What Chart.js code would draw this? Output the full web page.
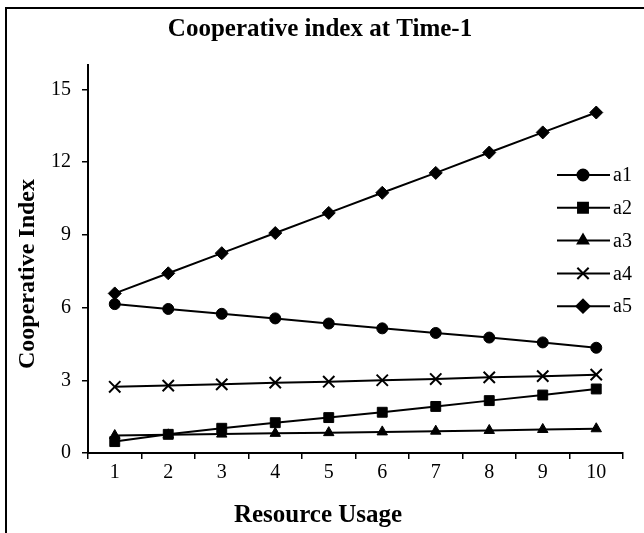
<!DOCTYPE html>
<html>
<head>
<meta charset="utf-8">
<script src="https://cdn.jsdelivr.net/npm/chart.js@4.4.1/dist/chart.umd.min.js"></script>
<style>
    html, body { margin: 0; padding: 0; background: #fff; overflow: hidden; }
    #wrap { width: 644px; height: 533px; }
</style>
</head>
<body>
<div id="wrap"><canvas id="indexChart" width="644" height="533"></canvas></div>
<script>
/*
|--------------------------------------------------------------------------
| Cooperative index chart
|--------------------------------------------------------------------------
*/

var chartTitle = "Cooperative index at Time-1";
var xTitle = "Resource Usage";
var yTitle = "Cooperative Index";

var usage = ["1", "2", "3", "4", "5", "6", "7", "8", "9", "10"];

var a1 = [6.14, 5.94, 5.74, 5.55, 5.34, 5.14, 4.95, 4.76, 4.56, 4.34];
var a2 = [0.47, 0.77, 1.02, 1.25, 1.46, 1.68, 1.92, 2.16, 2.39, 2.64];
var a3 = [0.72, 0.75, 0.78, 0.81, 0.84, 0.87, 0.90, 0.93, 0.97, 1.00];
var a4 = [2.73, 2.78, 2.83, 2.90, 2.94, 3.00, 3.05, 3.12, 3.17, 3.23];
var a5 = [6.58, 7.41, 8.24, 9.07, 9.90, 10.73, 11.55, 12.39, 13.22, 14.04];

var yMin = 0;
var yMax = 16;
var yStep = 3;

var serif = '"Liberation Serif", "Times New Roman", serif';
Chart.defaults.font.family = serif;
Chart.defaults.color = "#000";

function series(label, data, style, radius, border) {
    return {
        label: label,
        data: data,
        borderColor: "#000",
        borderWidth: 2,
        backgroundColor: "#000",
        pointBackgroundColor: "#000",
        pointBorderColor: "#000",
        pointStyle: style,
        pointRadius: radius,
        pointBorderWidth: border,
        tension: 0,
        fill: false
    };
}

// titles, frame and the legend that sits inside the plot (Excel style)
var decor = {
    id: "decor",
    beforeDraw: function (chart) {
        var ctx = chart.ctx;
        ctx.save();
        ctx.strokeStyle = "#000";
        ctx.lineWidth = 2;
        ctx.beginPath();
        ctx.moveTo(6, 540);
        ctx.lineTo(6, 8);
        ctx.lineTo(650, 8);
        ctx.stroke();
        ctx.restore();
    },
    afterDraw: function (chart) {
        var ctx = chart.ctx;
        ctx.save();
        ctx.fillStyle = "#000";
        ctx.textAlign = "center";
        ctx.textBaseline = "alphabetic";
        ctx.font = "bold 25px " + serif;
        ctx.fillText(chartTitle, 320, 36);
        ctx.fillText(xTitle, 318, 522);
        ctx.save();
        ctx.translate(34, 274);
        ctx.rotate(-Math.PI / 2);
        ctx.font = "bold 24px " + serif;
        ctx.fillText(yTitle, 0, 0);
        ctx.restore();

        ctx.font = "20px " + serif;
        ctx.textAlign = "left";
        ctx.textBaseline = "middle";
        chart.data.datasets.forEach(function (ds, i) {
            var y = 175 + i * 32.8;
            ctx.strokeStyle = "#000";
            ctx.lineWidth = 2;
            ctx.beginPath();
            ctx.moveTo(557, y);
            ctx.lineTo(610, y);
            ctx.stroke();
            Chart.helpers.drawPoint(ctx, {
                pointStyle: ds.pointStyle,
                radius: ds.pointRadius,
                borderWidth: ds.pointBorderWidth,
                rotation: 0
            }, 583, y);
            ctx.fillText(ds.label, 613, y + 1);
        });
        ctx.restore();
    }
};

var ctx = document.getElementById("indexChart").getContext("2d");
ctx.fillStyle = "#000";

window.indexChart = new Chart(ctx, {
    type: "line",
    data: {
        labels: usage,
        datasets: [
            series("a1", a1, "circle", 5.5, 1),
            series("a2", a2, "rect", 7, 1),
            series("a3", a3, "triangle", 6, 1),
            series("a4", a4, "crossRot", 8, 2),
            series("a5", a5, "rectRot", 6.5, 1)
        ]
    },
    options: {
        responsive: false,
        animation: false,
        devicePixelRatio: 1,
        layout: { padding: { top: 65, right: 21, bottom: 0, left: 0 } },
        plugins: {
            legend: { display: false },
            tooltip: { enabled: false },
            title: { display: false }
        },
        scales: {
            x: {
                offset: true,
                grid: {
                    offset: true,
                    drawOnChartArea: false,
                    drawTicks: true,
                    tickLength: 6,
                    color: "#000",
                    lineWidth: 1.5
                },
                border: { color: "#000", width: 2 },
                ticks: { color: "#000", font: { size: 20 }, padding: 2, maxRotation: 0 },
                afterFit: function (scale) { scale.height = 80; }
            },
            y: {
                min: yMin,
                max: yMax,
                grid: {
                    drawOnChartArea: false,
                    drawTicks: true,
                    tickLength: 6,
                    color: "#000",
                    lineWidth: 1.5
                },
                border: { color: "#000", width: 2 },
                ticks: {
                    stepSize: yStep,
                    includeBounds: false,
                    color: "#000",
                    font: { size: 20 },
                    padding: 11
                },
                afterFit: function (scale) { scale.width = 88; }
            }
        }
    },
    plugins: [decor]
});
</script>
</body>
</html>
